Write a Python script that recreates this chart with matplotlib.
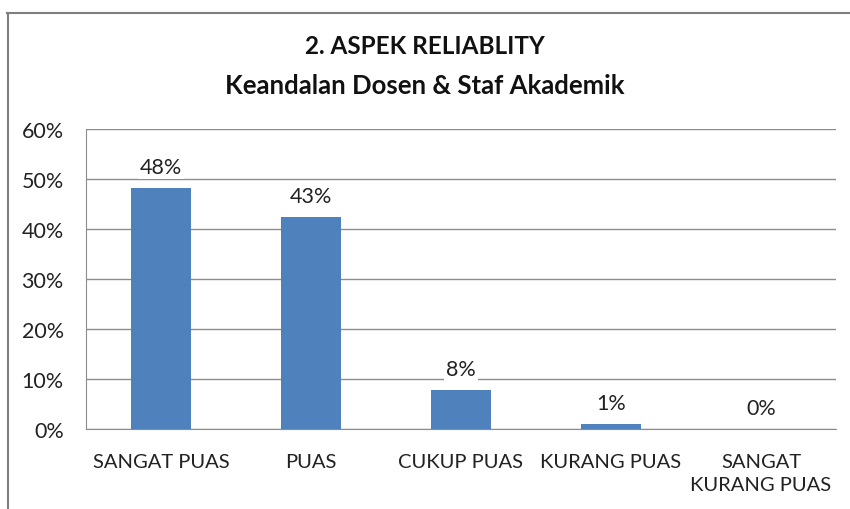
import matplotlib.pyplot as plt
from matplotlib.lines import Line2D

categories = ['SANGAT PUAS', 'PUAS', 'CUKUP PUAS', 'KURANG PUAS', 'SANGAT\nKURANG PUAS']
values = [48.3, 42.4, 7.8, 1.1, 0.0]
value_labels = ['48%', '43%', '8%', '1%', '0%']
yticks = [0, 10, 20, 30, 40, 50, 60]

plt.rcParams['font.family'] = ['Lato', 'DejaVu Sans']

fig = plt.figure(figsize=(8.5, 5.1), dpi=100)
ax = fig.add_axes([86 / 850, 1 - 430 / 510, 750 / 850, 300 / 510])

ax.bar(range(len(values)), values, width=0.4, color='#4F81BD', zorder=3)

for i, (v, lab) in enumerate(zip(values, value_labels)):
    ax.annotate(lab, (i, v), xytext=(0, 15), textcoords='offset points',
                ha='center', va='center', fontsize=15.5, color='#222222',
                bbox=dict(facecolor='white', edgecolor='none', pad=1.5), zorder=4)

ax.set_xlim(-0.5, len(values) - 0.5)
ax.set_ylim(0, 60)
ax.set_yticks(yticks)
ax.set_yticklabels([f'{t}%' for t in yticks], fontsize=15.5, color='#222222')
ax.set_xticks(range(len(categories)))
ax.set_xticklabels(categories, fontsize=14.5, color='#222222', linespacing=1.45)
ax.tick_params(axis='both', length=0)
ax.tick_params(axis='y', pad=16)
ax.tick_params(axis='x', pad=17)

ax.grid(axis='y', color='#8c8c8c', linewidth=1, zorder=0)
for s in ['top', 'right']:
    ax.spines[s].set_visible(False)
ax.spines['left'].set_color('#8c8c8c')
ax.spines['bottom'].set_color('#8c8c8c')

fig.text(0.5, 1 - 47 / 510, '2. ASPEK RELIABLITY', ha='center', va='center',
         fontsize=17.5, fontweight='bold', color='#111111')
fig.text(0.5, 1 - 86 / 510, 'Keandalan Dosen & Staf Akademik', ha='center', va='center',
         fontsize=18.5, fontweight='bold', color='#111111')

# outer chart frame (top and left visible)
fig.add_artist(Line2D([7 / 850, 1], [1 - 13.5 / 510] * 2, color='#7f7f7f', linewidth=1.5))
fig.add_artist(Line2D([7.5 / 850] * 2, [0, 1 - 13.5 / 510], color='#7f7f7f', linewidth=1.5))

fig.savefig('out.png', dpi=100)
